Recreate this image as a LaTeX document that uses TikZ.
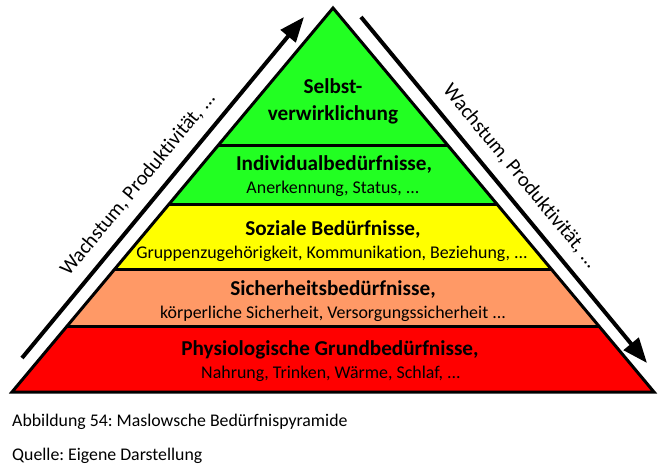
\documentclass[tikz,border=0pt]{standalone}
\usepackage{fontspec}
\setmainfont{Carlito}[Ligatures={NoCommon}]
\usetikzlibrary{arrows.meta}
\definecolor{lvlgreen}{RGB}{34,255,34}
\definecolor{lvlyellow}{RGB}{255,255,0}
\definecolor{lvlorange}{RGB}{255,153,102}
\definecolor{lvlred}{RGB}{255,0,0}
\frenchspacing
\begin{document}
\begin{tikzpicture}[x=1pt,y=-1pt,
  headtxt/.style={anchor=base,inner sep=0pt,font=\fontsize{21.2}{25}\selectfont\bfseries},
  subtxt/.style={anchor=base,inner sep=0pt,font=\fontsize{17.9}{21}\selectfont},
  captxt/.style={anchor=base west,inner sep=0pt,font=\fontsize{17.8}{21}\selectfont},
  sidetxt/.style={sloped,inner sep=0pt,font=\fontsize{20.5}{24}\selectfont},
  divider/.style={line width=3pt},
  bigarrow/.style={line width=4pt,-{Triangle[length=25pt,width=19pt]}}]
\useasboundingbox (0,0) rectangle (664,469);
\coordinate (apex) at (333,8);
\coordinate (bl) at (12,392);
\coordinate (br) at (654,392);
% bands
\begin{scope}
\clip (apex) -- (bl) -- (br) -- cycle;
\fill[lvlgreen] (0,0) rectangle (664,204);
\fill[lvlyellow] (0,204) rectangle (664,269);
\fill[lvlorange] (0,269) rectangle (664,326);
\fill[lvlred] (0,326) rectangle (664,400);
\draw[divider] (0,145) -- (664,145);
\draw[divider] (0,204) -- (664,204);
\draw[divider] (0,269) -- (664,269);
\draw[divider] (0,326) -- (664,326);
\end{scope}
\draw[line width=3pt,line join=miter] (apex) -- (bl) -- (br) -- cycle;
% texts
\node[headtxt] (t1a) at (333,93) {Selbst-};
\node[headtxt] (t1b) at (333,120) {verwirklichung};
\node[headtxt] (t2a) at (334,170) {Individualbedürfnisse,};
\node[subtxt] (t2b) at (333,193) {Anerkennung, Status, ...};
\node[headtxt] (t3a) at (333,235) {Soziale Bedürfnisse,};
\node[subtxt] (t3b) at (332,258.5) {Gruppenzugehörigkeit, Kommunikation, Beziehung, ...};
\node[headtxt] (t4a) at (333,295) {Sicherheitsbedürfnisse,};
\node[subtxt] (t4b) at (333,318.5) {körperliche Sicherheit, Versorgungssicherheit ...};
\node[headtxt] (t5a) at (330,355) {Physiologische Grundbedürfnisse,};
\node[subtxt] (t5b) at (331,378.5) {Nahrung, Trinken, Wärme, Schlaf, ...};
% arrows
\coordinate (la) at (22,358);
\coordinate (lb) at (304,17);
\coordinate (ra) at (361,17);
\coordinate (rb) at (647,363);
\draw[bigarrow] (la) -- (lb) node[sidetxt,pos=0.47,above=11pt] (lt) {Wachstum, Produktivität, ...};
\draw[bigarrow] (ra) -- (rb) node[sidetxt,pos=0.50,above=11pt] (rt) {Wachstum, Produktivität, ...};
% caption
\node[captxt] (cap1) at (12,426.5) {Abbildung 54: Maslowsche Bedürfnispyramide};
\node[captxt] (cap2) at (12,460) {Quelle: Eigene Darstellung};
\end{tikzpicture}
\end{document}
